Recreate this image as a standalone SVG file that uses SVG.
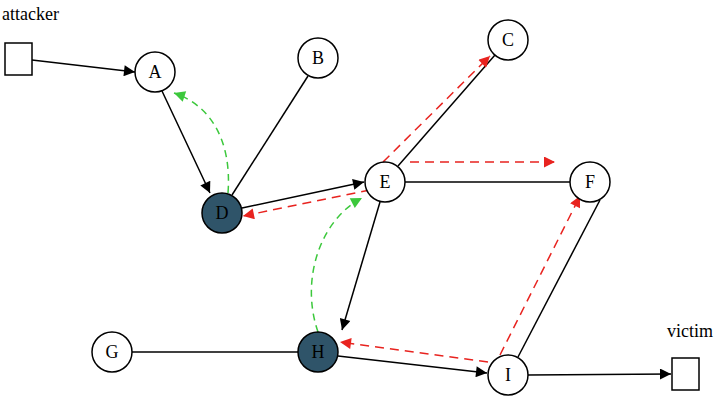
<svg xmlns="http://www.w3.org/2000/svg" width="725" height="402" viewBox="0 0 725 402">
<style>
.n{fill:#fff;stroke:#000;stroke-width:1.5}
.f{fill:#2f5469;stroke:#000;stroke-width:1.5}
text{font-family:"Liberation Serif",serif;font-size:18px;text-anchor:middle}
.e{stroke:#000;stroke-width:1.5;fill:none}
.r{stroke:#e8231f;stroke-width:1.5;fill:none;stroke-dasharray:9,6}
.g{stroke:#3cc83c;stroke-width:1.5;fill:none;stroke-dasharray:7,5}
</style>
<defs>
<marker id="ak" viewBox="0 0 10 10" refX="10" refY="5" markerWidth="16" markerHeight="11" orient="auto" markerUnits="userSpaceOnUse"><path d="M0,0L10,5L0,10z" fill="#000"/></marker>
<marker id="ar" viewBox="0 0 10 10" refX="10" refY="5" markerWidth="16" markerHeight="11" orient="auto" markerUnits="userSpaceOnUse"><path d="M0,0L10,5L0,10z" fill="#e8231f"/></marker>
<marker id="ag" viewBox="0 0 10 10" refX="10" refY="5" markerWidth="16" markerHeight="11" orient="auto" markerUnits="userSpaceOnUse"><path d="M0,0L10,5L0,10z" fill="#3cc83c"/></marker>
</defs>
<g id="edges">
<line class="e" x1="32" y1="60" x2="135" y2="72" marker-end="url(#ak)"/>
<line class="e" x1="162" y1="91" x2="210" y2="193" marker-end="url(#ak)"/>
<path class="g" d="M228,193 C232,140 210,105 174,93" marker-end="url(#ag)"/>
<line class="e" x1="308" y1="76" x2="232" y2="195"/>
<line class="e" x1="242" y1="208" x2="364" y2="182" marker-end="url(#ak)"/>
<line class="r" x1="370" y1="190" x2="243" y2="216" marker-end="url(#ar)"/>
<line class="e" x1="398" y1="166" x2="495" y2="55"/>
<line class="r" x1="383" y1="162" x2="490" y2="56" marker-end="url(#ar)"/>
<line class="e" x1="405" y1="182" x2="570" y2="182"/>
<line class="r" x1="410" y1="162" x2="555" y2="162" marker-end="url(#ar)"/>
<line class="e" x1="380" y1="202" x2="342" y2="330" marker-end="url(#ak)"/>
<path class="g" d="M318,332 C300,280 320,220 362,198" marker-end="url(#ag)"/>
<line class="e" x1="132" y1="352" x2="298" y2="352"/>
<line class="e" x1="338" y1="356" x2="487" y2="373" marker-end="url(#ak)"/>
<line class="r" x1="488" y1="362" x2="340" y2="342" marker-end="url(#ar)"/>
<line class="e" x1="518" y1="357" x2="600" y2="200"/>
<line class="r" x1="500" y1="355" x2="580" y2="196" marker-end="url(#ar)"/>
<line class="e" x1="528" y1="375" x2="671" y2="374" marker-end="url(#ak)"/>
</g>
<g id="attacker"><rect class="n" x="5" y="43" width="27" height="32"/><text x="2" y="20" style="text-anchor:start">attacker</text></g>
<g id="A"><circle class="n" cx="155" cy="72" r="20"/><text x="155" y="78">A</text></g>
<g id="B"><circle class="n" cx="318" cy="58" r="20"/><text x="318" y="64">B</text></g>
<g id="C"><circle class="n" cx="508" cy="40" r="20"/><text x="508" y="46">C</text></g>
<g id="D"><circle class="f" cx="222" cy="213" r="20"/><text x="222" y="219">D</text></g>
<g id="E"><circle class="n" cx="385" cy="182" r="20"/><text x="385" y="188">E</text></g>
<g id="F"><circle class="n" cx="590" cy="182" r="20"/><text x="590" y="188">F</text></g>
<g id="G"><circle class="n" cx="112" cy="352" r="20"/><text x="112" y="358">G</text></g>
<g id="H"><circle class="f" cx="318" cy="352" r="20"/><text x="318" y="358">H</text></g>
<g id="I"><circle class="n" cx="508" cy="375" r="20"/><text x="508" y="381">I</text></g>
<g id="victim"><rect class="n" x="672" y="358" width="27" height="32"/><text x="690" y="337">victim</text></g>
</svg>
